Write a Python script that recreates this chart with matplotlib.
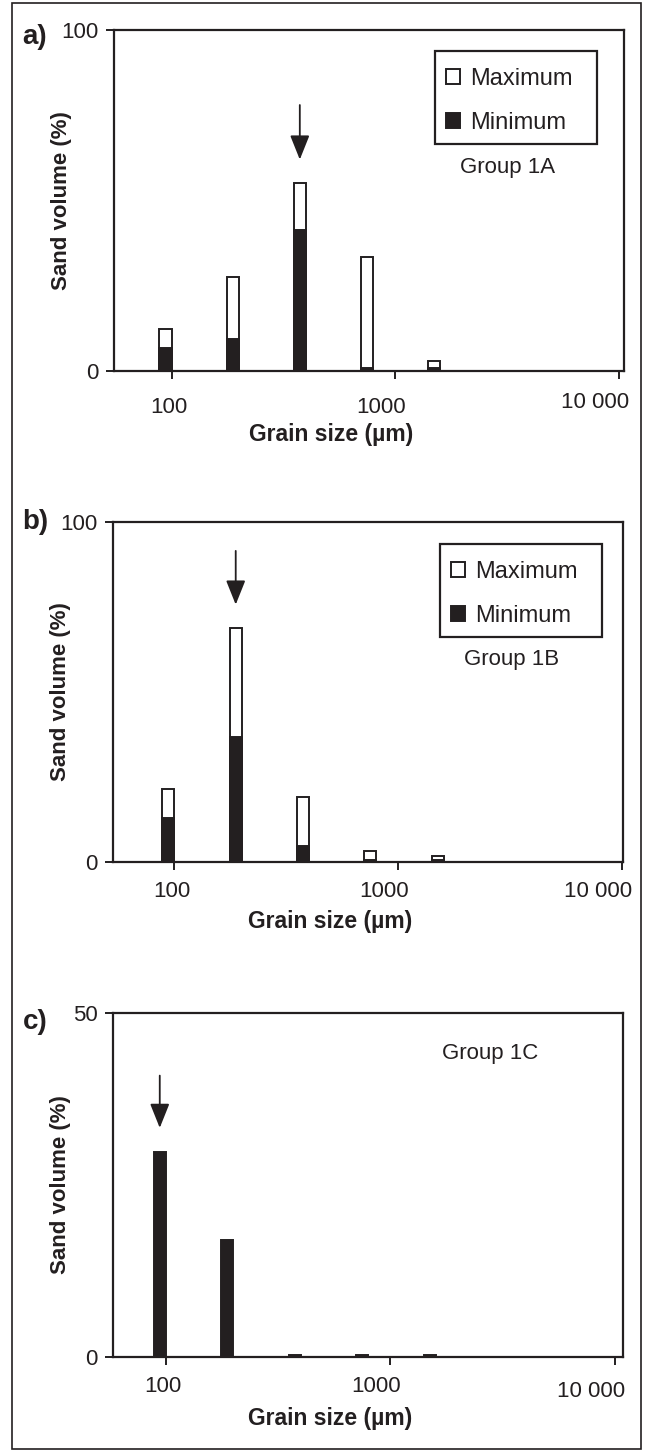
import numpy as np
import matplotlib
matplotlib.use('Agg')
import matplotlib.pyplot as plt
from matplotlib.patches import Rectangle, Patch
from matplotlib.transforms import ScaledTranslation

plt.rcParams['font.family'] = ['Liberation Sans', 'DejaVu Sans']

# ---------------- data ----------------
grain_sizes = [94, 188, 375, 750, 1500]          # class mid-points (µm)
a_max = [12.3, 27.7, 55.0, 33.5, 3.0]
a_min = [6.7, 9.5, 41.3, 1.0, 0.8]
b_max = [21.6, 68.8, 19.1, 3.1, 1.8]
b_min = [12.8, 36.8, 4.6, 0.5, 0.5]
c_vol = [29.8, 17.0, 0.3, 0.3, 0.3]
x_tick_values = [100, 1000, 10000]
x_tick_labels = ['100', '1000', '10 000']
panel_letters = ['a)', 'b)', 'c)']
group_names = ['Group 1A', 'Group 1B', 'Group 1C']
legend_labels = ['Maximum', 'Minimum']
y_max = [100, 100, 50]
mode_size = [375, 188, 94]                 # arrow positions
arrow_from = [78, 91.5, 40.9]
arrow_to = [62, 75.7, 33.3]

W, H = 652, 1452
fig = plt.figure(figsize=(W / 100, H / 100), dpi=100)
INK = '#231f20'

# axes boxes in pixels: left, right, top, bottom
boxes = [(114, 624, 30, 371), (113, 623, 522, 862), (113, 623, 1013, 1357)]
xlims = [(55.3, 10580), (53.2, 10100), (58.2, 10860)]
letter_y = [37, 522, 1022]
tick_pad = [13, 8, 8]
xlabel_drop = [64, 60, 61]
big_label_dy = [5, 0, -5]          # px shift of the "10 000" label
group_pos = [(508, 168), (512, 660), (490, 1053)]
legend_box = [(435, 597, 51, 144), (440, 602, 544, 637)]

BAR_HALF = 0.027  # half bar width in decades
LW = 1.4


def log_bar(ax, xs, hs, **kw):
    xs = np.asarray(xs, float)
    lo = xs * 10 ** (-BAR_HALF)
    hi = xs * 10 ** BAR_HALF
    return ax.bar(lo, hs, width=hi - lo, align='edge', **kw)


FS = 16
axes = []
for i in range(3):
    l, r, t, b = boxes[i]
    ax = fig.add_axes([l / W, 1 - b / H, (r - l) / W, (b - t) / H])
    axes.append(ax)
    ax.set_xscale('log')
    ax.set_xlim(*xlims[i])
    ax.set_ylim(0, y_max[i])
    ax.minorticks_off()
    ax.set_xticks(x_tick_values)
    ax.set_xticklabels(x_tick_labels)
    ax.set_yticks([0, y_max[i]])
    ax.set_yticklabels(['0', str(y_max[i])])
    ax.tick_params(axis='both', which='major', direction='out', length=6,
                   width=1.4, labelsize=FS, color=INK, labelcolor=INK)
    ax.tick_params(axis='x', pad=tick_pad[i])
    ax.tick_params(axis='y', pad=5)
    for sp in ax.spines.values():
        sp.set_linewidth(1.6)
        sp.set_color(INK)
    offs = [(-2, 0), (-10, 0), (-17, big_label_dy[i])]
    for lab, (dx, dy) in zip(ax.get_xticklabels(), offs):
        lab.set_transform(lab.get_transform() +
                          ScaledTranslation(dx / 72, dy * 0.72 / 72, fig.dpi_scale_trans))

    ax.set_xlabel('Grain size (µm)', fontsize=16.5, fontweight='bold', color=INK, va='center')
    ax.xaxis.set_label_coords(0.425, -xlabel_drop[i] / (b - t))
    ax.set_ylabel('Sand volume (%)', fontsize=16, fontweight='bold', color=INK, va='center')
    ax.yaxis.set_label_coords(-0.102, 0.5)

    fig.text(35 / W, 1 - letter_y[i] / H, panel_letters[i], fontsize=20, fontweight='bold',
             ha='center', va='center', color=INK)

    ax.annotate('', xy=(mode_size[i], arrow_to[i]), xytext=(mode_size[i], arrow_from[i]),
                arrowprops=dict(arrowstyle='-|>,head_length=0.75,head_width=0.3',
                                mutation_scale=20, lw=1.3, color=INK,
                                shrinkA=0, shrinkB=0))

    gx, gy = group_pos[i]
    ax.text((gx - l) / (r - l), (b - gy) / (b - t), group_names[i], transform=ax.transAxes,
            fontsize=16, ha='center', va='center', color=INK)

# panel a & b: maximum (open) with minimum (filled) overlay
for k, (mx, mn) in enumerate([(a_max, a_min), (b_max, b_min)]):
    ax = axes[k]
    l, r, t, b = boxes[k]
    log_bar(ax, grain_sizes, mx, facecolor='white', edgecolor=INK, linewidth=LW, zorder=2)
    log_bar(ax, grain_sizes, mn, facecolor=INK, edgecolor=INK, linewidth=LW, zorder=3)
    handles = [Patch(facecolor='white', edgecolor=INK, linewidth=1.4, label=legend_labels[0]),
               Patch(facecolor=INK, edgecolor=INK, linewidth=1.4, label=legend_labels[1])]
    bl, br, bt, bb = legend_box[k]
    # frame of the legend
    ax.add_patch(Rectangle(((bl - l) / (r - l), (b - bb) / (b - t)), (br - bl) / (r - l),
                           (bb - bt) / (b - t), transform=ax.transAxes, fill=False,
                           edgecolor=INK, linewidth=1.6, zorder=5))
    leg = ax.legend(handles=handles, loc='upper left',
                    bbox_to_anchor=((bl - 7 - l) / (r - l), (b - bt + 1) / (b - t)),
                    fontsize=17, frameon=False,
                    handlelength=0.6, handleheight=0.6, handletextpad=0.42,
                    labelspacing=0.95, borderpad=0.75, borderaxespad=0)
    for txt in leg.get_texts():
        txt.set_color(INK)

log_bar(axes[2], grain_sizes, c_vol, facecolor=INK, edgecolor=INK, linewidth=LW, zorder=3)

# outer frame
fig.add_artist(Rectangle((12 / W, 3 / H), (641 - 12) / W, (1449 - 3) / H, transform=fig.transFigure,
                         fill=False, edgecolor=INK, linewidth=1.2))

fig.savefig('out.png', dpi=100)
